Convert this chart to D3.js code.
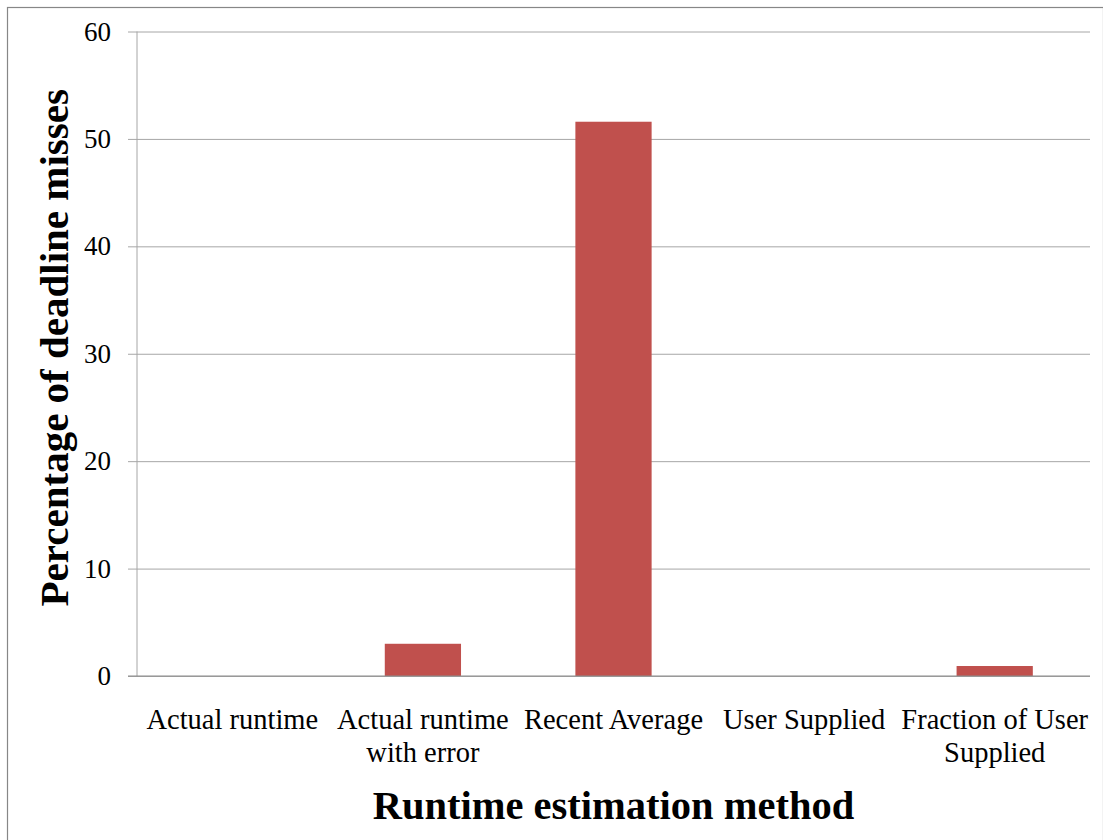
<!DOCTYPE html>
<html>
<head>
<meta charset="utf-8">
<script src="https://cdn.jsdelivr.net/npm/d3@7"></script>
<style>
  html, body { margin: 0; padding: 0; background: #fff; }
  svg { display: block; }
  text { font-family: "Liberation Serif", "Times New Roman", serif; fill: #000; }
</style>
</head>
<body>
<svg id="chart" width="1103" height="840"></svg>
<script>
// Deadline misses per runtime estimation method
const categories = [
  "Actual runtime",
  "Actual runtime\nwith error",
  "Recent Average",
  "User Supplied",
  "Fraction of User\nSupplied"
];
const missPercent = [0, 3.0, 51.6, 0, 0.93];
const yTicks = [0, 10, 20, 30, 40, 50, 60];

const width = 1103, height = 840;
const margin = { left: 137, right: 13, top: 31.5, bottom: 164 };

const svg = d3.select("#chart");

// outer chart frame
svg.append("rect")
  .attr("x", 7.5).attr("y", 7.5)
  .attr("width", width - 7).attr("height", height)
  .attr("fill", "none").attr("stroke", "#878787").attr("stroke-width", 1.2);

const x = d3.scaleBand()
  .domain(categories)
  .range([margin.left, width - margin.right])
  .paddingInner(0.6).paddingOuter(0.3);

const y = d3.scaleLinear()
  .domain([0, 60])
  .range([height - margin.bottom, margin.top]);

// horizontal gridlines with left tick marks
const yAxis = d3.axisLeft(y)
  .tickValues(yTicks)
  .tickSize(-(width - margin.right - margin.left))
  .tickSizeOuter(0)
  .tickPadding(26)
  .tickFormat(d3.format("d"));

const gy = svg.append("g")
  .attr("transform", `translate(${margin.left},0)`)
  .call(yAxis);
gy.select(".domain").remove();
gy.selectAll(".tick line")
  .attr("x1", -9)
  .attr("stroke", "#a6a6a6").attr("stroke-width", 1);
gy.selectAll(".tick text")
  .attr("font-size", 27)
  .attr("font-family", "Liberation Serif, serif")
  .attr("fill", "#000");

// vertical axis line
svg.append("line")
  .attr("x1", margin.left).attr("x2", margin.left)
  .attr("y1", y(60)).attr("y2", y(0))
  .attr("stroke", "#a6a6a6").attr("stroke-width", 1);

// bars
svg.append("g").selectAll("rect")
  .data(categories.map((c, i) => ({ c, v: missPercent[i] })))
  .join("rect")
  .attr("x", d => x(d.c))
  .attr("width", x.bandwidth())
  .attr("y", d => y(d.v))
  .attr("height", d => y(0) - y(d.v))
  .attr("fill", "#c0504d");

// category axis line
svg.append("line")
  .attr("x1", margin.left - 9).attr("x2", width - margin.right)
  .attr("y1", y(0)).attr("y2", y(0))
  .attr("stroke", "#8c8c8c").attr("stroke-width", 1.2);

// category labels (multi-line)
const labels = svg.append("g").selectAll("text")
  .data(categories)
  .join("text")
  .attr("text-anchor", "middle")
  .attr("font-size", 28.5)
  .attr("transform", d => `translate(${x(d) + x.bandwidth() / 2},729)`);
labels.each(function(d) {
  const t = d3.select(this);
  d.split("\n").forEach((line, i) => {
    t.append("tspan").attr("x", 0).attr("dy", i === 0 ? 0 : 33).text(line);
  });
});

// axis titles
svg.append("text")
  .attr("x", (margin.left + width - margin.right) / 2)
  .attr("y", 819)
  .attr("text-anchor", "middle")
  .attr("font-size", 40.5)
  .attr("font-weight", "bold")
  .text("Runtime estimation method");

svg.append("text")
  .attr("transform", `translate(68,${(y(0) + y(60)) / 2 - 6}) rotate(-90)`)
  .attr("text-anchor", "middle")
  .attr("font-size", 41)
  .attr("font-weight", "bold")
  .text("Percentage of deadline misses");
</script>
</body>
</html>
